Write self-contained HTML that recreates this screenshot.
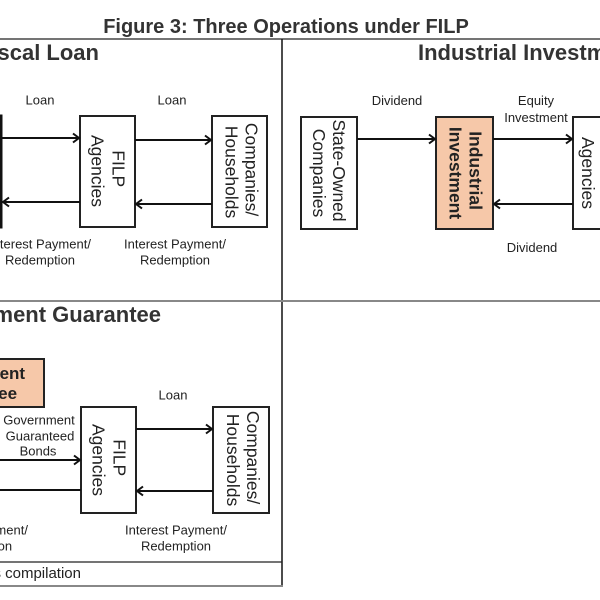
<!DOCTYPE html>
<html>
<head>
<meta charset="utf-8">
<style>
  html,body{margin:0;padding:0;background:#fff;}
  svg{display:block;}
  text{font-family:"Liberation Sans",Arial,sans-serif;}
</style>
</head>
<body>
<svg width="600" height="600" viewBox="0 0 600 600" xmlns="http://www.w3.org/2000/svg">
  <rect x="0" y="0" width="600" height="600" fill="#fff"/>

  <!-- Title -->
  <text x="286" y="33" font-size="20" font-weight="bold" fill="#333" text-anchor="middle">Figure 3: Three Operations under FILP</text>

  <!-- Grid lines -->
  <line x1="0" y1="39" x2="600" y2="39" stroke="#222" stroke-width="1.2"/>
  <line x1="282" y1="39" x2="282" y2="586" stroke="#111" stroke-width="1.5"/>
  <line x1="0" y1="301" x2="600" y2="301" stroke="#888" stroke-width="2"/>
  <line x1="0" y1="562" x2="282" y2="562" stroke="#222" stroke-width="1.2"/>
  <line x1="0" y1="586" x2="283" y2="586" stroke="#888" stroke-width="2"/>

  <!-- ===== Fiscal Loan panel ===== -->
  <text x="99" y="60" font-size="22" font-weight="bold" fill="#333" text-anchor="end">Fiscal Loan</text>

  <rect x="-60" y="116" width="61" height="111" fill="#fff" stroke="#111" stroke-width="3"/>
  <rect x="80" y="116" width="55" height="111" fill="#fff" stroke="#222" stroke-width="2"/>
  <rect x="212" y="116" width="55" height="111" fill="#fff" stroke="#222" stroke-width="2"/>

  <text transform="translate(107.5,171) rotate(90)" font-size="17.5" fill="#222" text-anchor="middle">
    <tspan x="0" y="-5">FILP</tspan>
    <tspan x="0" y="16">Agencies</tspan>
  </text>
  <text transform="translate(239.5,172) rotate(90)" font-size="17.5" fill="#222" text-anchor="middle">
    <tspan x="0" y="-6">Companies/</tspan>
    <tspan x="0" y="14">Households</tspan>
  </text>

  <g stroke="#111" stroke-width="2" fill="none">
    <line x1="2" y1="138" x2="79" y2="138"/>
    <polyline points="73,133.5 79,138 73,142.5"/>
    <line x1="135" y1="140" x2="211" y2="140"/>
    <polyline points="205,135.5 211,140 205,144.5"/>
    <line x1="80" y1="202" x2="3" y2="202"/>
    <polyline points="9,197.5 3,202 9,206.5"/>
    <line x1="212" y1="204" x2="136" y2="204"/>
    <polyline points="142,199.5 136,204 142,208.5"/>
  </g>

  <g font-size="13" fill="#222" text-anchor="middle">
    <text x="40" y="104.5">Loan</text>
    <text x="172" y="104.5">Loan</text>
    <text x="40" y="248.5">Interest Payment/</text>
    <text x="40" y="264.5">Redemption</text>
    <text x="175" y="248.5">Interest Payment/</text>
    <text x="175" y="264.5">Redemption</text>
  </g>

  <!-- ===== Industrial Investment panel ===== -->
  <text x="418" y="60" font-size="22" font-weight="bold" fill="#333">Industrial Investment</text>

  <rect x="301" y="117" width="56" height="112" fill="#fff" stroke="#222" stroke-width="2"/>
  <rect x="436" y="117" width="57" height="112" fill="#F6C8A9" stroke="#222" stroke-width="2"/>
  <rect x="573" y="117" width="60" height="112" fill="#fff" stroke="#222" stroke-width="2"/>

  <text transform="translate(329,173) rotate(90)" font-size="17.5" fill="#222" text-anchor="middle">
    <tspan x="0" y="-4">State-Owned</tspan>
    <tspan x="0" y="16">Companies</tspan>
  </text>
  <text transform="translate(464.5,173) rotate(90)" font-size="17.5" font-weight="bold" fill="#222" text-anchor="middle">
    <tspan x="0" y="-5">Industrial</tspan>
    <tspan x="0" y="15">Investment</tspan>
  </text>
  <text transform="translate(598,173) rotate(90)" font-size="17.5" fill="#222" text-anchor="middle">
    <tspan x="0" y="-5">FILP</tspan>
    <tspan x="0" y="16">Agencies</tspan>
  </text>

  <g stroke="#111" stroke-width="2" fill="none">
    <line x1="357" y1="139" x2="435" y2="139"/>
    <polyline points="429,134.5 435,139 429,143.5"/>
    <line x1="493" y1="139" x2="572" y2="139"/>
    <polyline points="566,134.5 572,139 566,143.5"/>
    <line x1="573" y1="204" x2="494" y2="204"/>
    <polyline points="500,199.5 494,204 500,208.5"/>
  </g>

  <g font-size="13" fill="#222" text-anchor="middle">
    <text x="397" y="105">Dividend</text>
    <text x="536" y="105">Equity</text>
    <text x="536" y="122">Investment</text>
    <text x="532" y="252">Dividend</text>
  </g>

  <!-- ===== Government Guarantee panel ===== -->
  <text x="161" y="322" font-size="22" font-weight="bold" fill="#333" text-anchor="end">Government Guarantee</text>

  <rect x="-94" y="359" width="138" height="48" fill="#F6C8A9" stroke="#222" stroke-width="2"/>
  <g font-size="17" font-weight="bold" fill="#222" text-anchor="middle">
    <text x="-25" y="379">Government</text>
    <text x="-25" y="399">Guarantee</text>
  </g>

  <rect x="81" y="407" width="55" height="106" fill="#fff" stroke="#222" stroke-width="2"/>
  <rect x="213" y="407" width="56" height="106" fill="#fff" stroke="#222" stroke-width="2"/>

  <text transform="translate(108.5,460) rotate(90)" font-size="17.5" fill="#222" text-anchor="middle">
    <tspan x="0" y="-5">FILP</tspan>
    <tspan x="0" y="16">Agencies</tspan>
  </text>
  <text transform="translate(241,460) rotate(90)" font-size="17.5" fill="#222" text-anchor="middle">
    <tspan x="0" y="-6">Companies/</tspan>
    <tspan x="0" y="14">Households</tspan>
  </text>

  <g stroke="#111" stroke-width="2" fill="none">
    <line x1="0" y1="460" x2="80" y2="460"/>
    <polyline points="74,455.5 80,460 74,464.5"/>
    <line x1="136" y1="429" x2="212" y2="429"/>
    <polyline points="206,424.5 212,429 206,433.5"/>
    <line x1="213" y1="491" x2="137" y2="491"/>
    <polyline points="143,486.5 137,491 143,495.5"/>
    <line x1="81" y1="490" x2="0" y2="490"/>
  </g>

  <g font-size="13" fill="#222" text-anchor="middle">
    <text x="173" y="399.5">Loan</text>
    <text x="39" y="424.5">Government</text>
    <text x="40" y="440.5">Guaranteed</text>
    <text x="38" y="455.5">Bonds</text>
    <text x="-23" y="534.5">Interest Payment/</text>
    <text x="-23" y="550.5">Redemption</text>
    <text x="176" y="534.5">Interest Payment/</text>
    <text x="176" y="550.5">Redemption</text>
  </g>

  <!-- Source -->
  <text x="81" y="578" font-size="15" fill="#222" text-anchor="end">Source: Author's compilation</text>
</svg>
</body>
</html>
